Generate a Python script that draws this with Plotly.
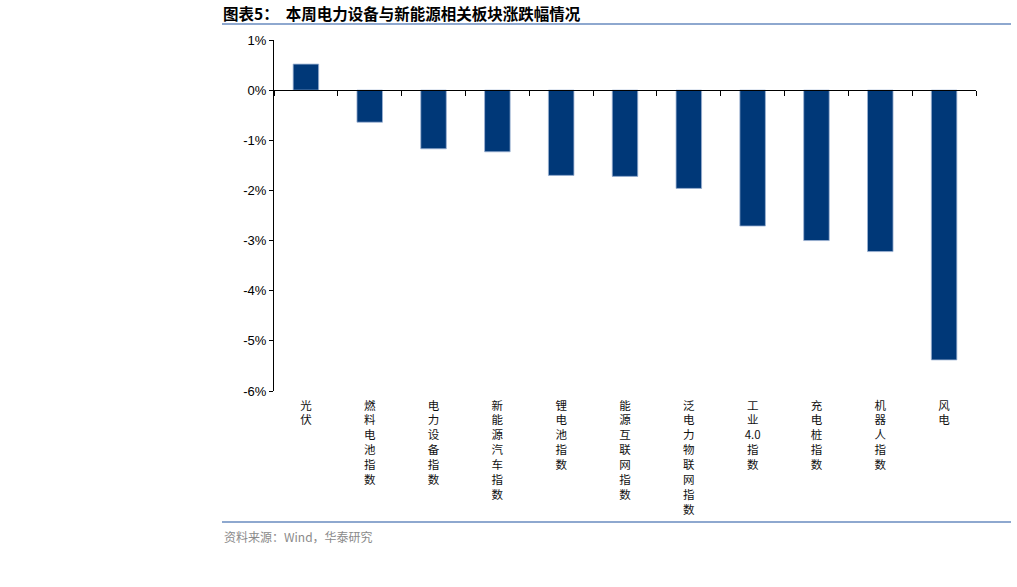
import plotly.graph_objects as go

categories = ["光伏", "燃料电池指数", "电力设备指数", "新能源汽车指数", "锂电池指数",
              "能源互联网指数", "泛电力物联网指数", "工业4.0指数", "充电桩指数", "机器人指数", "风电"]
values = [0.52, -0.64, -1.17, -1.23, -1.70, -1.72, -1.96, -2.71, -3.00, -3.22, -5.38]
y_ticks = [1, 0, -1, -2, -3, -4, -5, -6]
title_text = "图表5：  本周电力设备与新能源相关板块涨跌幅情况"
source_text = "资料来源：Wind，华泰研究"


def vertical(label):
    parts = []
    i = 0
    while i < len(label):
        ch = label[i]
        if ch.isdigit():
            j = i
            while j < len(label) and (label[j].isdigit() or label[j] == "."):
                j += 1
            parts.append(label[i:j])
            i = j
        else:
            parts.append(ch)
            i += 1
    return "<br>".join(parts)


tick_text = [vertical(c) for c in categories]

W, H = 1017, 587
L, R, T, B = 274, 976, 40, 391


def fx(px):
    return (px - L) / (R - L)


def fy(py):
    return (B - py) / (B - T)


ymin, ymax = min(y_ticks), max(y_ticks)

fig = go.Figure()
fig.add_trace(go.Bar(
    x=categories, y=values, xaxis="x", yaxis="y",
    marker=dict(color="#003878", line=dict(color="#9db3d3", width=0.8)),
    hoverinfo="x+y", showlegend=False,
))
fig.add_trace(go.Bar(
    x=categories, y=values, xaxis="x2", yaxis="y",
    marker=dict(color="rgba(0,0,0,0)", line=dict(width=0)),
    hoverinfo="skip", showlegend=False,
))

fig.update_layout(
    width=W, height=H,
    margin=dict(l=L, r=W - R, t=T, b=H - B, pad=0),
    paper_bgcolor="white", plot_bgcolor="white",
    bargap=0.6,
    font=dict(family="Noto Sans CJK SC", color="black"),
    xaxis=dict(
        type="category", categoryorder="array", categoryarray=categories,
        range=[-0.5, len(categories) - 0.5],
        tickvals=categories, ticktext=tick_text,
        showline=False, showgrid=False, zeroline=False, ticks="",
        tickangle=0, ticklabelstandoff=6,
        tickfont=dict(family="Noto Sans CJK SC", size=11.5, color="#111"),
    ),
    xaxis2=dict(
        type="category", categoryorder="array", categoryarray=categories,
        range=[-0.5, len(categories) - 0.5],
        overlaying="x", anchor="free", position=(0 - ymin) / (ymax - ymin),
        side="bottom", showticklabels=False, showgrid=False, zeroline=False,
        showline=True, linecolor="black", linewidth=1,
        tickson="boundaries", ticks="outside", ticklen=5, tickcolor="black", tickwidth=1,
    ),
    yaxis=dict(
        range=[ymin, ymax], tickvals=y_ticks,
        ticktext=[f"{v}%" for v in y_ticks],
        showline=True, linecolor="black", linewidth=1,
        ticks="outside", ticklen=4, tickcolor="black",
        showgrid=False, zeroline=False,
        tickfont=dict(family="Liberation Sans", size=13, color="black"),
    ),
    shapes=[
        dict(type="line", xref="paper", yref="paper", x0=fx(222), x1=fx(1011),
             y0=fy(24), y1=fy(24), line=dict(color="#8ea8cf", width=2)),
        dict(type="line", xref="paper", yref="paper", x0=fx(222), x1=fx(1011),
             y0=fy(522), y1=fy(522), line=dict(color="#8ea8cf", width=2)),
    ],
    annotations=[
        dict(text=f"<b>{title_text}</b>", xref="paper", yref="paper", x=fx(221), y=fy(13),
             xanchor="left", yanchor="middle", showarrow=False,
             font=dict(family="Noto Sans CJK SC", size=15.5, color="black")),
        dict(text=source_text, xref="paper", yref="paper", x=fx(222), y=fy(536),
             xanchor="left", yanchor="middle", showarrow=False,
             font=dict(family="Noto Sans CJK SC", size=12, color="#8a8a8a")),
    ],
)

fig.write_html("out.html", config={"displayModeBar": False},
               post_script="document.body.style.margin='0';document.body.style.overflow='hidden';")
